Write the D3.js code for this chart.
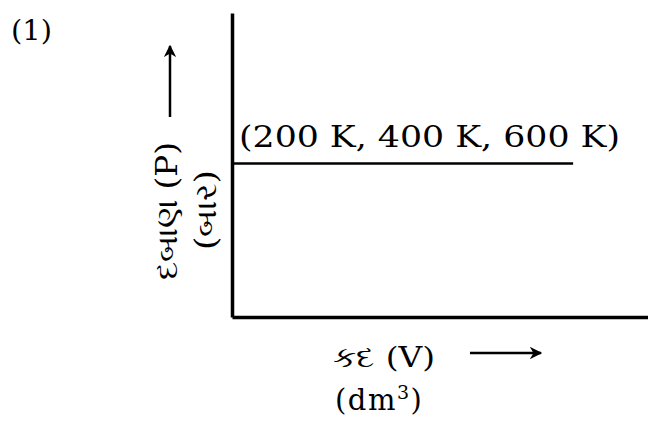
<!DOCTYPE html>
<meta charset="utf-8">
<script src="https://d3js.org/d3.v7.min.js"></script>
<style>
  body { margin: 0; background: #fff; }
  text { font-family: "DejaVu Serif", "Liberation Serif", serif; fill: #000; }
</style>
<div id="my_dataviz"></div>
<script>
    // data: one isobar shared by all three temperatures
    var temps = ["200 K", "400 K", "600 K"];
    var volumes = [0, 8.2];
    var pressures = [5.05, 5.05];

    var xLabel = "કદ (V)";
    var xUnit = "(dm", xUnitSup = "3", xUnitEnd = ")";
    var yLabel = "દબાણ (P)";
    var yUnit = "(બાર)";
    var partLabel = "(1)";

    var W = 648, H = 423;
    var margin = {top: 13, right: 0, bottom: 106, left: 232},
        width = W - margin.left - margin.right,
        height = H - margin.top - margin.bottom;

    var svg = d3.select("#my_dataviz")
        .append("svg")
        .attr("width", W)
        .attr("height", H);

    svg.append("defs").append("marker")
        .attr("id", "arrow")
        .attr("viewBox", "0 0 10 10")
        .attr("refX", 9).attr("refY", 5)
        .attr("markerWidth", 6).attr("markerHeight", 5)
        .attr("markerUnits", "strokeWidth")
        .attr("orient", "auto")
        .append("path")
        .attr("d", "M0,0 L10,5 L0,10 L3,5 Z")
        .attr("fill", "#000");

    var g = svg.append("g")
        .attr("transform", "translate(" + margin.left + "," + margin.top + ")");

    var x = d3.scaleLinear().domain([0, 10]).range([0, width]);
    var y = d3.scaleLinear().domain([0, 10]).range([height, 0]);

    // axes without ticks
    g.append("g")
        .attr("transform", "translate(0," + height + ")")
        .call(d3.axisBottom(x).tickValues([]).tickSizeOuter(0))
        .call(function(s) { s.select(".domain").attr("stroke-width", 3.5); });

    g.append("g")
        .call(d3.axisLeft(y).tickValues([]).tickSizeOuter(0))
        .call(function(s) { s.select(".domain").attr("stroke-width", 3.5); });

    // isobar
    var pts = volumes.map(function(v, i) { return [v, pressures[i]]; });
    g.append("path")
        .datum(pts)
        .attr("fill", "none")
        .attr("stroke", "#000")
        .attr("stroke-width", 2.5)
        .attr("d", d3.line()
            .x(function(d) { return x(d[0]); })
            .y(function(d) { return y(d[1]); }));

    g.append("text")
        .attr("x", x(0) + 7)
        .attr("y", y(pressures[0]) - 16)
        .attr("font-size", 30)
        .attr("textLength", 381)
        .attr("lengthAdjust", "spacingAndGlyphs")
        .text("(" + temps.join(", ") + ")");

    // part number
    svg.append("text")
        .attr("x", 11).attr("y", 40)
        .attr("font-size", 28)
        .attr("textLength", 41)
        .attr("lengthAdjust", "spacingAndGlyphs")
        .text(partLabel);

    // y axis title
    svg.append("text")
        .attr("transform", "translate(177,280) rotate(-90)")
        .attr("font-size", 29)
        .attr("textLength", 138)
        .attr("lengthAdjust", "spacingAndGlyphs")
        .text(yLabel);
    svg.append("text")
        .attr("transform", "translate(216,250) rotate(-90)")
        .attr("font-size", 29)
        .attr("textLength", 80)
        .attr("lengthAdjust", "spacingAndGlyphs")
        .text(yUnit);
    svg.append("line")
        .attr("x1", 170).attr("y1", 117)
        .attr("x2", 170).attr("y2", 46)
        .attr("stroke", "#000").attr("stroke-width", 2.5)
        .attr("marker-end", "url(#arrow)");

    // x axis title
    svg.append("text")
        .attr("x", 333).attr("y", 367)
        .attr("font-size", 28)
        .attr("textLength", 102)
        .attr("lengthAdjust", "spacingAndGlyphs")
        .text(xLabel);
    var u = svg.append("text")
        .attr("x", 335).attr("y", 410)
        .attr("font-size", 29)
        .attr("letter-spacing", 1.5);
    u.append("tspan").text(xUnit);
    u.append("tspan").attr("dy", -11).attr("font-size", 19).text(xUnitSup);
    u.append("tspan").attr("dy", 11).text(xUnitEnd);
    svg.append("line")
        .attr("x1", 470).attr("y1", 353)
        .attr("x2", 541).attr("y2", 353)
        .attr("stroke", "#000").attr("stroke-width", 2.5)
        .attr("marker-end", "url(#arrow)");
</script>
